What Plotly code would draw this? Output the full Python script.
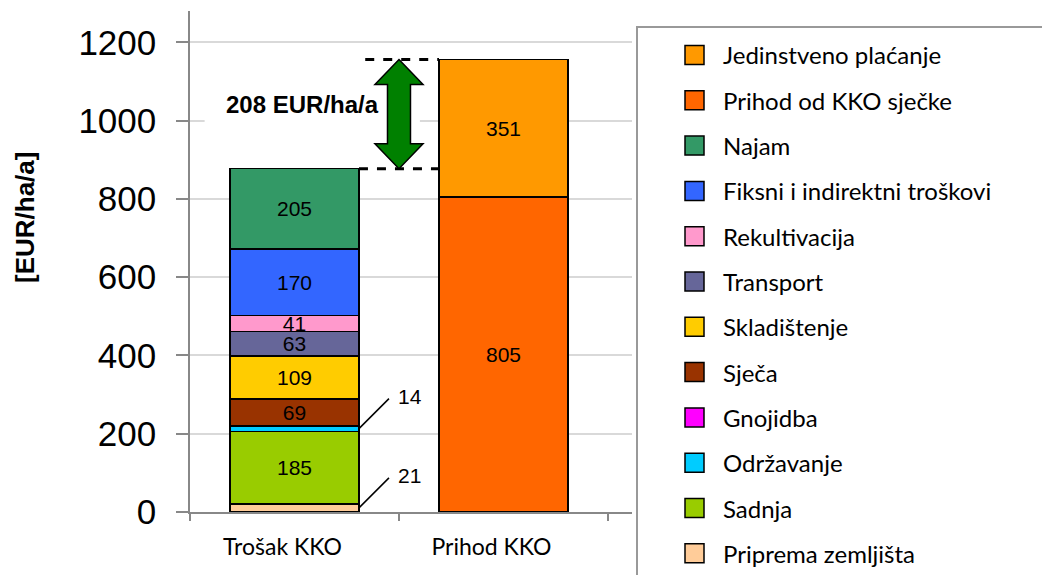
import plotly.graph_objects as go

# ---------------- data ----------------
categories = ["Trošak KKO", "Prihod KKO"]

cost_labels = ["Priprema zemljišta", "Sadnja", "Održavanje", "Gnojidba", "Sječa",
               "Skladištenje", "Transport", "Rekultivacija",
               "Fiksni i indirektni troškovi", "Najam"]
cost_values = [21, 185, 14, 0, 69, 109, 63, 41, 170, 205]
cost_colors = ["#FFCC99", "#99CC00", "#00CCFF", "#FF00FF", "#993300",
               "#FFCC00", "#666699", "#FF99CC", "#3366FF", "#339966"]

revenue_labels = ["Prihod od KKO sječke", "Jedinstveno plaćanje"]
revenue_values = [805, 351]
revenue_colors = ["#FF6600", "#FF9900"]

gap_label = "208 EUR/ha/a"
y_title = "[EUR/ha/a]"
y_ticks = [0, 200, 400, 600, 800, 1000, 1200]

# ---------------- layout constants ----------------
W, H = 1050, 575
PAGE_OFF = 8                      # default body margin of the html page
PLOT_X0, PLOT_X1 = 190, 632       # plot area on screen
PLOT_Y0, PLOT_Y1 = 11, 512
L = PLOT_X0 - PAGE_OFF
T = PLOT_Y0 - PAGE_OFF
R = W - (PLOT_X1 - PAGE_OFF)
B = H - (PLOT_Y1 - PAGE_OFF)
X_RANGE = [-0.5, 1.615]
Y_RANGE = [0, 1280]
BAR_W = 0.617
LEG_FONT = "Lato, 'Open Sans', sans-serif"
NUM_FONT = "Arial, 'Liberation Sans', sans-serif"


def px_x(sx):
    return (sx - PLOT_X0) / (PLOT_X1 - PLOT_X0)


def px_y(sy):
    return (PLOT_Y1 - sy) / (PLOT_Y1 - PLOT_Y0)


fig = go.Figure()

shapes = []
annotations = []

# cost bars
base = 0
for lab, val, col in zip(cost_labels, cost_values, cost_colors):
    inside = val >= 40
    fig.add_bar(
        x=[categories[0]], y=[val], name=lab, width=BAR_W,
        marker=dict(color=col, line=dict(color="black", width=1.5)),
        text=[str(val)] if inside else None,
        textposition="inside", insidetextanchor="middle", textangle=0,
        constraintext="none",
        insidetextfont=dict(family=NUM_FONT, size=21, color="black"),
        showlegend=False, hoverinfo="name+y",
    )
    if 0 < val < 40:
        mid = base + val / 2
        shapes.append(dict(type="line", xref="x", yref="y",
                           xsizemode="pixel", ysizemode="pixel",
                           xanchor=BAR_W / 2, yanchor=mid,
                           x0=0, x1=30, y0=0, y1=30,
                           line=dict(color="black", width=1.5), layer="above"))
        annotations.append(dict(x=BAR_W / 2, y=mid, xref="x", yref="y",
                                text=str(val), showarrow=False,
                                xshift=51, yshift=32,
                                font=dict(family=NUM_FONT, size=21, color="black")))
    base += val
cost_total = base

# revenue bars
base = 0
for lab, val, col in zip(revenue_labels, revenue_values, revenue_colors):
    fig.add_bar(
        x=[categories[1]], y=[val], name=lab, width=BAR_W,
        marker=dict(color=col, line=dict(color="black", width=1.5)),
        text=[str(val)], textposition="inside", insidetextanchor="middle",
        textangle=0, constraintext="none",
        insidetextfont=dict(family=NUM_FONT, size=21, color="black"),
        showlegend=False, hoverinfo="name+y",
    )
    base += val
revenue_total = base

# dashed reference lines
shapes.append(dict(type="line", xref="x", yref="y",
                   x0=BAR_W / 2, x1=1 - BAR_W / 2, y0=cost_total, y1=cost_total,
                   line=dict(color="black", width=3, dash="dash")))
shapes.append(dict(type="line", xref="x", yref="y",
                   x0=BAR_W / 2 + 0.03, x1=1 - BAR_W / 2, y0=revenue_total, y1=revenue_total,
                   line=dict(color="black", width=3, dash="dash")))

# double-headed green arrow between totals
ypx = (PLOT_Y1 - PLOT_Y0) / (Y_RANGE[1] - Y_RANGE[0])  # pixels per unit
hh = 25 / ypx
cx, sw, hw = 0.5, 0.055, 0.115
pts = [(cx, revenue_total), (cx + hw, revenue_total - hh), (cx + sw, revenue_total - hh),
       (cx + sw, cost_total + hh), (cx + hw, cost_total + hh), (cx, cost_total),
       (cx - hw, cost_total + hh), (cx - sw, cost_total + hh),
       (cx - sw, revenue_total - hh), (cx - hw, revenue_total - hh)]
path = "M " + " L ".join(f"{x},{y}" for x, y in pts) + " Z"
shapes.append(dict(type="path", xref="x", yref="y", path=path,
                   fillcolor="#008000", line=dict(color="black", width=1.5), layer="above"))

# white background behind the gap label (hides grid line)
shapes.append(dict(type="rect", xref="x", yref="y", x0=-0.43, x1=0.6, y0=960, y1=1090,
                   fillcolor="white", line=dict(width=0), layer="between"))
annotations.append(dict(x=0.04, y=1040, xref="x", yref="y", text=f"<b>{gap_label}</b>",
                        showarrow=False,
                        font=dict(family=NUM_FONT, size=24, color="black")))

# y-axis title
annotations.append(dict(x=px_x(25), y=px_y(218), xref="paper", yref="paper",
                        xanchor="center", yanchor="middle",
                        text=f"<b>{y_title}</b>", textangle=-90, showarrow=False,
                        font=dict(family=NUM_FONT, size=26, color="black")))

# manual legend
legend_labels = revenue_labels[::-1] + cost_labels[::-1]
legend_colors = revenue_colors[::-1] + cost_colors[::-1]
shapes.append(dict(type="rect", xref="paper", yref="paper",
                   x0=px_x(637), x1=px_x(1070), y0=px_y(27), y1=px_y(600),
                   line=dict(color="#999999", width=2), fillcolor="rgba(0,0,0,0)"))
for i, (lab, col) in enumerate(zip(legend_labels, legend_colors)):
    cy = 55 + i * 45.3
    shapes.append(dict(type="rect", xref="paper", yref="paper",
                       x0=px_x(685), x1=px_x(704), y0=px_y(cy + 9.5), y1=px_y(cy - 9.5),
                       fillcolor=col, line=dict(color="black", width=1.5)))
    annotations.append(dict(x=px_x(721), y=px_y(cy), xref="paper", yref="paper",
                            xanchor="left", yanchor="middle", text=lab, showarrow=False,
                            font=dict(family=LEG_FONT, size=24, color="black")))

fig.update_layout(
    width=W, height=H,
    margin=dict(l=L, r=R, t=T, b=B, pad=0, autoexpand=False),
    barmode="stack",
    paper_bgcolor="white", plot_bgcolor="white",
    showlegend=False,
    shapes=shapes, annotations=annotations,
    xaxis=dict(type="category", categoryorder="array", categoryarray=categories,
               range=X_RANGE, tickson="boundaries", ticks="outside", ticklen=7,
               tickwidth=1.5, tickcolor="#888888", showline=True, linecolor="#888888",
               linewidth=1.5, showgrid=False, ticklabelshift=-12, ticklabelstandoff=14,
               tickfont=dict(family=LEG_FONT, size=23, color="black")),
    yaxis=dict(range=Y_RANGE, tickvals=y_ticks, ticks="outside", ticklen=12,
               tickwidth=1.5, tickcolor="#888888", showline=True, linecolor="#888888",
               linewidth=1.5, showgrid=True, gridcolor="#d9d9d9", gridwidth=1.5,
               zeroline=False, ticklabelstandoff=13,
               tickfont=dict(family=NUM_FONT, size=35, color="black")),
)

fig.write_html("out.html")
